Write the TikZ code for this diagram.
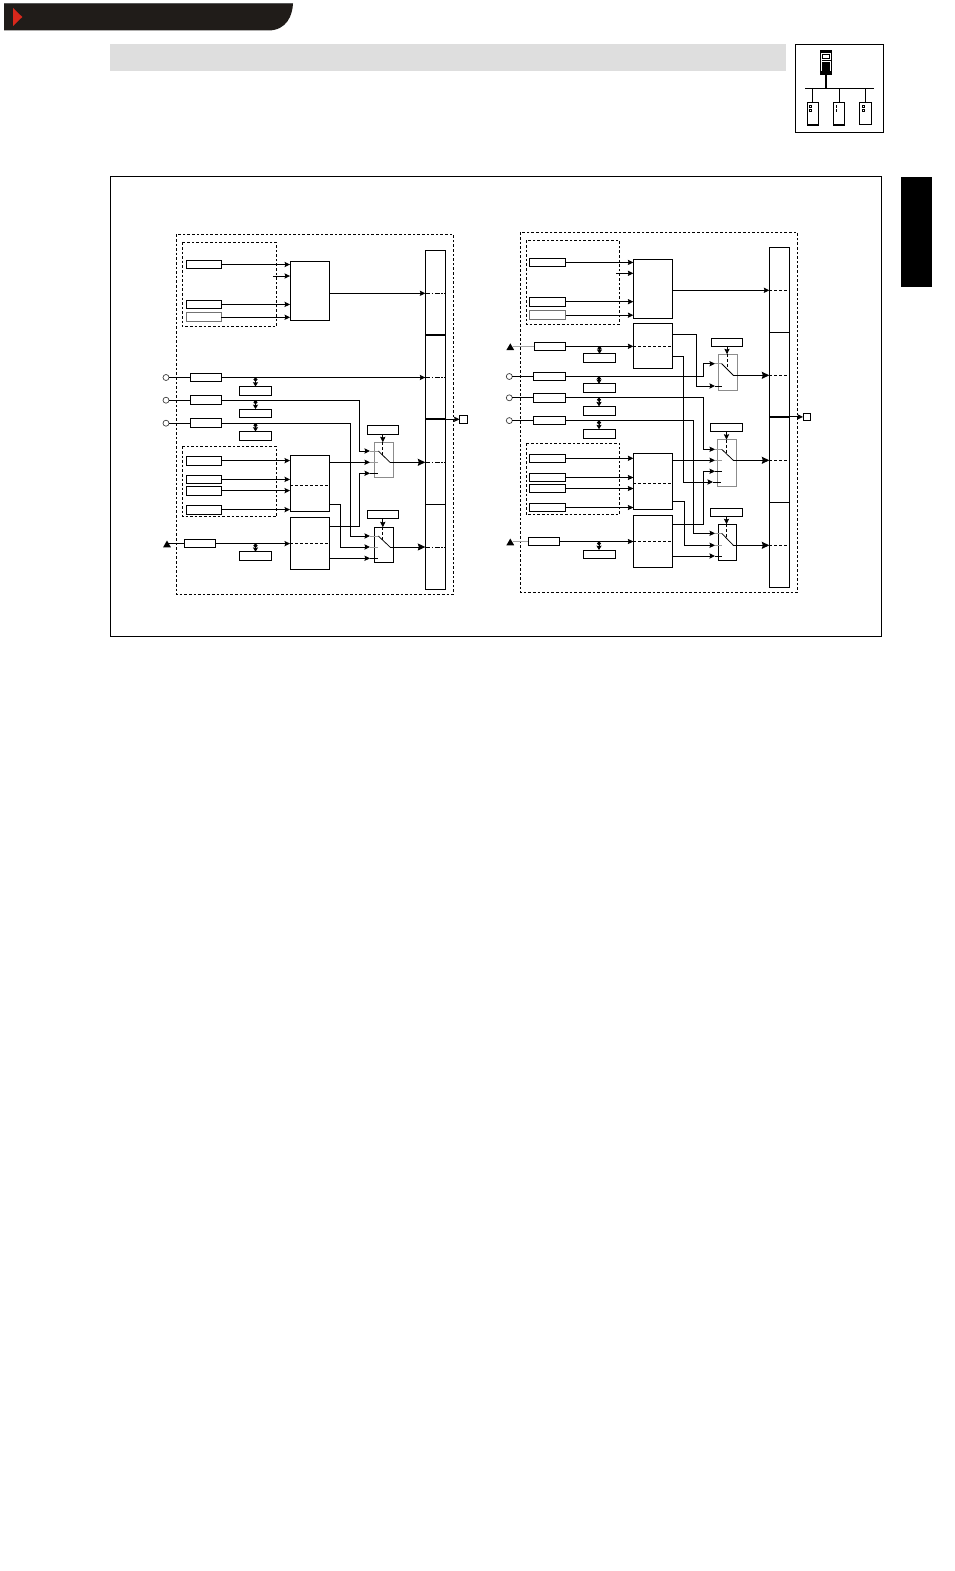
\documentclass[tikz,border=0pt]{standalone}
\usepackage{tikz}
\usetikzlibrary{positioning,arrows.meta,calc,shapes.geometric}
\usepackage{xcolor}
\definecolor{hdrblack}{HTML}{201C19}
\definecolor{hdrred}{HTML}{D8281C}
\definecolor{bandgray}{HTML}{DEDEDE}

\begin{document}
\begin{tikzpicture}[
    x=1pt, y=-1pt,
    box/.style={rectangle, draw, line width=0.85pt, inner sep=0pt, outer sep=0pt},
    inbox/.style={box, minimum width=35.3pt, minimum height=8.8pt},
    rinbox/.style={box, minimum width=36.4pt, minimum height=8.6pt},
    shortbox/.style={box, minimum width=31.4pt, minimum height=8.6pt},
    tagbox/.style={box, minimum width=32pt, minimum height=8.8pt},
    block/.style={box, minimum width=39.3pt},
    switchbox/.style={box, minimum width=19pt},
    bar/.style={box, minimum width=20pt},
    port/.style={circle, draw=black!75, line width=0.7pt, fill=white, inner sep=0pt, outer sep=0pt, minimum size=6pt},
    tri/.style={regular polygon, regular polygon sides=3, fill=black, inner sep=0pt, outer sep=0pt, minimum size=9pt},
    squarebox/.style={box, minimum size=8pt},
    frame/.style={dash pattern=on 2.6pt off 2pt, line width=0.8pt},
    line/.style={line width=0.9pt},
    arrow/.style={-{Stealth[length=5.5pt,width=5.2pt,inset=0.8pt]}, line width=0.9pt},
    bigarrow/.style={-{Stealth[length=7.5pt,width=7pt,inset=1pt]}, line width=0.9pt},
    tap/.style={{Circle[length=4pt]}-{Stealth[length=4.4pt,width=5pt,inset=0.5pt]}, line width=0.9pt},
    midline/.style={densely dashed, line width=0.75pt},
    stub/.style={line width=0.9pt, color=gray!80},
    darkstub/.style={line width=0.9pt},
    arm/.style={line width=0.75pt},
    devbox/.style={rectangle, draw, line width=0.9pt, inner sep=0pt, minimum width=11.4pt, minimum height=23pt}
]
\useasboundingbox (0,0) rectangle (954,1571);

% page furniture
\fill[hdrblack] (4,3.5) -- (293,3.5) .. controls (292.5,15) and (287,30.5) .. (268,30.5) -- (4,30.5) -- cycle;
\draw[black!65, line width=0.7pt] (4,3.6) -- (292.5,3.6);
\fill[hdrred] (13,8) -- (22.3,17) -- (13,26) -- cycle;
\node[fill=bandgray, minimum width=676pt, minimum height=26.7pt, inner sep=0pt] (band) at (448,57.4) {};
\node[fill=black, minimum width=31pt, minimum height=110pt, inner sep=0pt] (tab) at (916.5,232) {};
\node[box, minimum width=770.6pt, minimum height=460pt] (outer) at (496,406.3) {};

% network icon
\node[box, minimum width=88pt, minimum height=88pt] (icon) at (839.3,88.3) {};
\node[devbox, line width=1.2pt, minimum height=23.7pt] (master) at (826,62.9) {};
\node[devbox] (dev1) at (812.7,113.8) {};
\node[devbox] (dev2) at (839,113.8) {};
\node[devbox, minimum width=12.4pt, minimum height=22.4pt] (dev3) at (865.5,113.2) {};
\coordinate (busl) at (805,88.3);
\coordinate (busr) at (874,88.3);
\draw[line width=1pt] (busl) -- (busr);
\draw[line width=2.2pt] (master.south) -- (master.south |- busl);
\draw[line width=0.7pt] (dev1.north |- busl) -- (dev1.north);
\draw[line width=0.7pt] (dev2.north |- busl) -- (dev2.north);
\draw[line width=0.7pt] (dev3.north |- busl) -- (dev3.north);
\fill (820.3,51) rectangle (831.7,53);
\draw[line width=0.7pt] (822.3,54.5) rectangle (829.7,58.8);
\fill (821.5,60) rectangle (830.5,61);
\fill (822.3,62.3) rectangle (829.7,71);
\fill (820.3,71.5) rectangle (831.7,74.7);
\draw[line width=0.6pt] (808.8,105) rectangle (811.2,107.3);
\draw[line width=0.6pt] (808.8,109.2) rectangle (811.2,111.5);
\fill (835.6,105) rectangle (837.4,107.8);
\fill (835.6,109) rectangle (837.4,111.8);
\draw[line width=0.6pt] (861.8,105) rectangle (864.2,107.3);
\draw[line width=0.6pt] (861.8,109.2) rectangle (864.2,111.5);
\draw[line width=1.3pt] (807,125) -- (818.4,125);
\draw[line width=1.3pt] (833.3,125) -- (844.7,125);

% left panel
\draw[frame] (176.3,234.3) rectangle (453.3,594.3);
\draw[frame] (182.3,242.3) rectangle (276.3,326.7);
\draw[frame] (182.3,446.3) rectangle (276.3,516.7);

\node[inbox] (la1) at (203.8,264.5) {};
\node[inbox] (la2) at (203.8,304.4) {};
\node[inbox, draw=black!55] (la3) at (203.8,317.3) {};
\node[inbox] (lb1) at (203.8,460.6) {};
\node[inbox] (lb2) at (203.8,479.4) {};
\node[inbox] (lb3) at (203.8,490.6) {};
\node[inbox] (lb4) at (203.8,509.6) {};
\node[port] (lp1) at (166,377.5) {};
\node[port] (lp2) at (166,400.2) {};
\node[port] (lp3) at (166,423.2) {};
\node[tri] (ltri) at (167,545) {};
\node[shortbox] (lc1) at (205.8,377.5) {};
\node[shortbox] (lc2) at (205.8,400.2) {};
\node[shortbox] (lc3) at (205.8,423.2) {};
\node[shortbox] (lc4) at (200,543.6) {};
\node[tagbox] (lt1) at (255.5,391) {};
\node[tagbox] (lt2) at (255.5,413.5) {};
\node[tagbox] (lt3) at (255.5,436) {};
\node[tagbox] (lt4) at (255.5,556.3) {};
\node[block, minimum height=59pt] (lba) at (309.7,290.8) {};
\node[block, minimum height=56pt] (lbb) at (309.7,483.3) {};
\node[block, minimum height=52pt] (lbc) at (309.7,543.3) {};
\node[switchbox, minimum height=35pt, draw=black!45, line width=1pt] (ls1) at (383.8,459.8) {};
\node[switchbox, minimum height=35pt] (ls2) at (383.8,544.8) {};
\node[tagbox, minimum width=31pt] (lk1) at (382.8,430) {};
\node[tagbox, minimum width=31pt] (lk2) at (382.8,514.5) {};
\node[bar, minimum height=339pt] (lbar) at (435.3,419.8) {};
\node[squarebox] (lsq) at (463.5,419.3) {};

\coordinate (lx) at (273,276);
\coordinate (lo1) at (329.3,293.3);
\coordinate (lbo1) at (329.3,462.3);
\coordinate (lbo2) at (329.3,504.3);
\coordinate (lco1) at (329.3,526.3);
\coordinate (lco2) at (329.3,558.3);
\coordinate (lv1) at (359.3,0);
\coordinate (lv2) at (350.3,0);
\coordinate (lv3) at (340.3,0);
\coordinate (ls1a) at (370,451);
\coordinate (ls1b) at (370,462.3);
\coordinate (ls1c) at (370,473.3);
\coordinate (ls2a) at (370,536);
\coordinate (ls2b) at (370,547);
\coordinate (ls2c) at (370,558.3);
\coordinate (ls1p) at (378.3,451);
\coordinate (ls1q) at (390,462.3);
\coordinate (ls2p) at (378.3,536);
\coordinate (ls2q) at (390,547);

\draw[arrow] (la1) -- (la1 -| lba.west);
\draw[arrow] (lx) -- (lx -| lba.west);
\draw[arrow] (la2) -- (la2 -| lba.west);
\draw[arrow] (la3) -- (la3 -| lba.west);
\draw[arrow] (lb1) -- (lb1 -| lbb.west);
\draw[arrow] (lb2) -- (lb2 -| lbb.west);
\draw[arrow] (lb3) -- (lb3 -| lbb.west);
\draw[arrow] (lb4) -- (lb4 -| lbb.west);
\draw[line] (lp1) -- (lc1);
\draw[line] (lp2) -- (lc2);
\draw[line] (lp3) -- (lc3);
\draw[line] (ltri |- lc4) -- (lc4);
\draw[arrow] (lc1) -- (lc1 -| lbar.west);
\draw[arrow] (lc2) -- (lc2 -| lv1) |- (ls1a);
\draw[arrow] (lc3) -- (lc3 -| lv2) |- (ls2a);
\draw[arrow] (lc4) -- (lc4 -| lbc.west);
\draw[tap] (lt1 |- lc1) -- (lt1.north);
\draw[tap] (lt2 |- lc2) -- (lt2.north);
\draw[tap] (lt3 |- lc3) -- (lt3.north);
\draw[tap] (lt4 |- lc4) -- (lt4.north);
\draw[midline] (lbb.west |- 0,485.7) -- (lbb.east |- 0,485.7);
\draw[midline] (lbc.west |- lc4) -- (lbc.east |- lc4);
\draw[arrow] (lo1) -- (lo1 -| lbar.west);
\draw[arrow] (lbo1) -- (ls1b);
\draw[arrow] (lbo2) -- (lbo2 -| lv3) |- (ls2b);
\draw[arrow] (lco1) -- (lco1 -| lv1) |- (ls1c);
\draw[arrow] (lco2) -- (ls2c);
\draw[stub] (ls1a) -- (ls1p);
\draw[stub] (ls1b) -- +(8,0);
\draw[darkstub] (ls1c) -- +(8,0);
\draw[stub] (ls2a) -- (ls2p);
\draw[stub] (ls2b) -- +(8,0);
\draw[darkstub] (ls2c) -- +(8,0);
\draw[arm] (ls1p) -- (ls1q);
\draw[arm] (ls2p) -- (ls2q);
\draw[bigarrow] (ls1q) -- (ls1q -| lbar.west);
\draw[bigarrow] (ls2q) -- (ls2q -| lbar.west);
\draw[arrow] (lk1.south) -- (lk1.south |- ls1.north);
\draw[arrow] (lk2.south) -- (lk2.south |- ls2.north);
\draw[midline] (lk1.south |- ls1.north) -- (lk1.south |- 0,456);
\draw[midline] (lk2.south |- ls2.north) -- (lk2.south |- 0,541);
\draw[line width=1.8pt] (lbar.west |- 0,334.7) -- (lbar.east |- 0,334.7);
\draw[line width=1.8pt] (lbar.west |- lsq) -- (lbar.east |- lsq);
\draw[line] (lbar.west |- 0,504.3) -- (lbar.east |- 0,504.3);
\draw[midline, dash pattern=on 5pt off 1.5pt on 1.5pt off 1.5pt] (lo1 -| lbar.west) -- (lo1 -| lbar.east);
\draw[midline, dash pattern=on 5pt off 1.5pt on 1.5pt off 1.5pt] (lc1 -| lbar.west) -- (lc1 -| lbar.east);
\draw[midline, dash pattern=on 5pt off 1.5pt on 1.5pt off 1.5pt] (ls1q -| lbar.west) -- (ls1q -| lbar.east);
\draw[midline, dash pattern=on 5pt off 1.5pt on 1.5pt off 1.5pt] (ls2q -| lbar.west) -- (ls2q -| lbar.east);
\draw[arrow] (lbar.east |- lsq) -- (lsq.west);

% right panel
\draw[frame] (520.3,232.3) rectangle (797.3,592.3);
\draw[frame] (526.3,240.3) rectangle (619.3,324.3);
\draw[frame] (526.3,443) rectangle (619.3,514.7);

\node[rinbox] (ra1) at (547.5,262.4) {};
\node[rinbox] (ra2) at (547.5,301.7) {};
\node[rinbox, draw=black!55] (ra3) at (547.5,315.2) {};
\node[rinbox] (rb1) at (547.5,458.3) {};
\node[rinbox] (rb2) at (547.5,477.5) {};
\node[rinbox] (rb3) at (547.5,488.5) {};
\node[rinbox] (rb4) at (547.5,507.5) {};
\node[tri] (rtri1) at (510.3,347.8) {};
\node[tri] (rtri2) at (510.3,543) {};
\node[port] (rp1) at (509.3,376.5) {};
\node[port] (rp2) at (509.3,397.8) {};
\node[port] (rp3) at (509.3,420.6) {};
\node[shortbox] (rc0) at (550,346.3) {};
\node[shortbox, minimum width=32.4pt] (rc1) at (549.5,376.5) {};
\node[shortbox, minimum width=32.4pt] (rc2) at (549.5,397.8) {};
\node[shortbox, minimum width=32.4pt] (rc3) at (549.5,420.6) {};
\node[shortbox] (rc4) at (544,541.5) {};
\node[tagbox] (rt0) at (599.5,358.3) {};
\node[tagbox] (rt1) at (599,388.3) {};
\node[tagbox] (rt2) at (599,410.8) {};
\node[tagbox] (rt3) at (599,433.7) {};
\node[tagbox] (rt4) at (599,554.5) {};
\node[block, minimum height=59pt] (rba) at (653,288.8) {};
\node[block, minimum height=45pt] (rbd) at (653,345.8) {};
\node[block, minimum height=56pt] (rbb) at (653,481.3) {};
\node[block, minimum height=52pt] (rbc) at (653,541.3) {};
\node[switchbox, minimum height=36pt, draw=black!45, line width=1pt] (rs1) at (727.8,372.3) {};
\node[switchbox, minimum height=47pt, draw=black!45, line width=1pt] (rs2) at (727.3,463.2) {};
\node[switchbox, minimum width=18.4pt, minimum height=36pt] (rs3) at (727.5,542.3) {};
\node[tagbox, minimum width=31.4pt] (rk1) at (727,342.5) {};
\node[tagbox, minimum width=32.4pt] (rk2) at (726.5,427.5) {};
\node[tagbox, minimum width=32.4pt] (rk3) at (726.5,512.5) {};
\node[bar, minimum height=340pt] (rbar) at (779.3,417.3) {};
\node[squarebox, minimum size=7.6pt] (rsq) at (806.8,416.9) {};

\coordinate (rx) at (616,273.3);
\coordinate (ro1) at (672.7,290.3);
\coordinate (rdo1) at (672.7,334.3);
\coordinate (rdo2) at (672.7,356.3);
\coordinate (rbo1) at (672.7,460.3);
\coordinate (rbo2) at (672.7,501);
\coordinate (rco1) at (672.7,524.3);
\coordinate (rco2) at (672.7,556);
\coordinate (rv1) at (703.3,0);
\coordinate (rv2) at (693.3,0);
\coordinate (rv3) at (696.3,0);
\coordinate (rv4) at (683.3,0);
\coordinate (rv5) at (684.3,0);
\coordinate (rs1a) at (715,363.7);
\coordinate (rs1c) at (715,386);
\coordinate (rs2a) at (715,449.3);
\coordinate (rs2b) at (715,460.3);
\coordinate (rs2c) at (715,471.3);
\coordinate (rs2d) at (713,482);
\coordinate (rs3a) at (715,533.3);
\coordinate (rs3b) at (715,545.3);
\coordinate (rs3c) at (715,556);
\coordinate (rs1p) at (721.7,363.7);
\coordinate (rs1q) at (733.3,375.3);
\coordinate (rs2p) at (721.7,449.3);
\coordinate (rs2q) at (733.3,460.3);
\coordinate (rs3p) at (721.7,533.3);
\coordinate (rs3q) at (733.3,545.3);

\draw[arrow] (ra1) -- (ra1 -| rba.west);
\draw[arrow] (rx) -- (rx -| rba.west);
\draw[arrow] (ra2) -- (ra2 -| rba.west);
\draw[arrow] (ra3) -- (ra3 -| rba.west);
\draw[arrow] (rb1) -- (rb1 -| rbb.west);
\draw[arrow] (rb2) -- (rb2 -| rbb.west);
\draw[arrow] (rb3) -- (rb3 -| rbb.west);
\draw[arrow] (rb4) -- (rb4 -| rbb.west);
\draw[line, gray!70] (rtri1.east |- rc0) -- (rc0);
\draw[line] (rp1) -- (rc1);
\draw[line] (rp2) -- (rc2);
\draw[line] (rp3) -- (rc3);
\draw[line, gray!70] (rtri2.east |- rc4) -- (rc4);
\draw[arrow] (rc0) -- (rc0 -| rbd.west);
\draw[arrow] (rc1) -- (rc1 -| rv1) |- (rs1a);
\draw[arrow] (rc2) -- (rc2 -| rv1) |- (rs2a);
\draw[arrow] (rc3) -- (rc3 -| rv2) |- (rs3a);
\draw[arrow] (rc4) -- (rc4 -| rbc.west);
\draw[tap] (rt0 |- rc0) -- (rt0.north);
\draw[tap] (rt1 |- rc1) -- (rt1.north);
\draw[tap] (rt2 |- rc2) -- (rt2.north);
\draw[tap] (rt3 |- rc3) -- (rt3.north);
\draw[tap] (rt4 |- rc4) -- (rt4.north);
\draw[midline] (rbd.west |- rc0) -- (rbd.east |- rc0);
\draw[midline] (rbb.west |- 0,483.3) -- (rbb.east |- 0,483.3);
\draw[midline] (rbc.west |- rc4) -- (rbc.east |- rc4);
\draw[arrow] (ro1) -- (ro1 -| rbar.west);
\draw[arrow] (rdo1) -- (rdo1 -| rv3) |- (rs1c);
\draw[arrow] (rdo2) -- (rdo2 -| rv4) |- (rs2d);
\draw[arrow] (rbo1) -- (rs2b);
\draw[arrow] (rbo2) -- (rbo2 -| rv5) |- (rs3b);
\draw[arrow] (rco1) -- (rco1 -| rv1) |- (rs2c);
\draw[arrow] (rco2) -- (rs3c);
\draw[stub] (rs1a) -- (rs1p);
\draw[darkstub] (rs1c) -- +(7,0);
\draw[stub] (rs2a) -- (rs2p);
\draw[stub] (rs2b) -- +(7,0);
\draw[darkstub] (rs2c) -- +(7,0);
\draw[darkstub] (rs2d) -- +(8,0);
\draw[stub] (rs3a) -- (rs3p);
\draw[stub] (rs3b) -- +(7,0);
\draw[darkstub] (rs3c) -- +(7,0);
\draw[arm] (rs1p) -- (rs1q);
\draw[arm] (rs2p) -- (rs2q);
\draw[arm] (rs3p) -- (rs3q);
\draw[bigarrow] (rs1q) -- (rs1q -| rbar.west);
\draw[bigarrow] (rs2q) -- (rs2q -| rbar.west);
\draw[bigarrow] (rs3q) -- (rs3q -| rbar.west);
\draw[arrow] (rk1.south) -- (rk1.south |- rs1.north);
\draw[arrow] (rk2.south) -- (rk2.south |- rs2.north);
\draw[arrow] (rk3.south) -- (rk3.south |- rs3.north);
\draw[midline] (rk1.south |- rs1.north) -- (rk1.south |- 0,368);
\draw[midline] (rk2.south |- rs2.north) -- (rk2.south |- 0,453.5);
\draw[midline] (rk3.south |- rs3.north) -- (rk3.south |- 0,538);
\draw[line] (rbar.west |- 0,332.3) -- (rbar.east |- 0,332.3);
\draw[line width=1.8pt] (rbar.west |- rsq) -- (rbar.east |- rsq);
\draw[line] (rbar.west |- 0,502.3) -- (rbar.east |- 0,502.3);
\draw[midline] (ro1 -| rbar.west) -- (ro1 -| rbar.east);
\draw[midline] (rs1q -| rbar.west) -- (rs1q -| rbar.east);
\draw[midline] (rs2q -| rbar.west) -- (rs2q -| rbar.east);
\draw[midline] (rs3q -| rbar.west) -- (rs3q -| rbar.east);
\draw[arrow] (rbar.east |- rsq) -- (rsq.west);
\end{tikzpicture}
\end{document}
